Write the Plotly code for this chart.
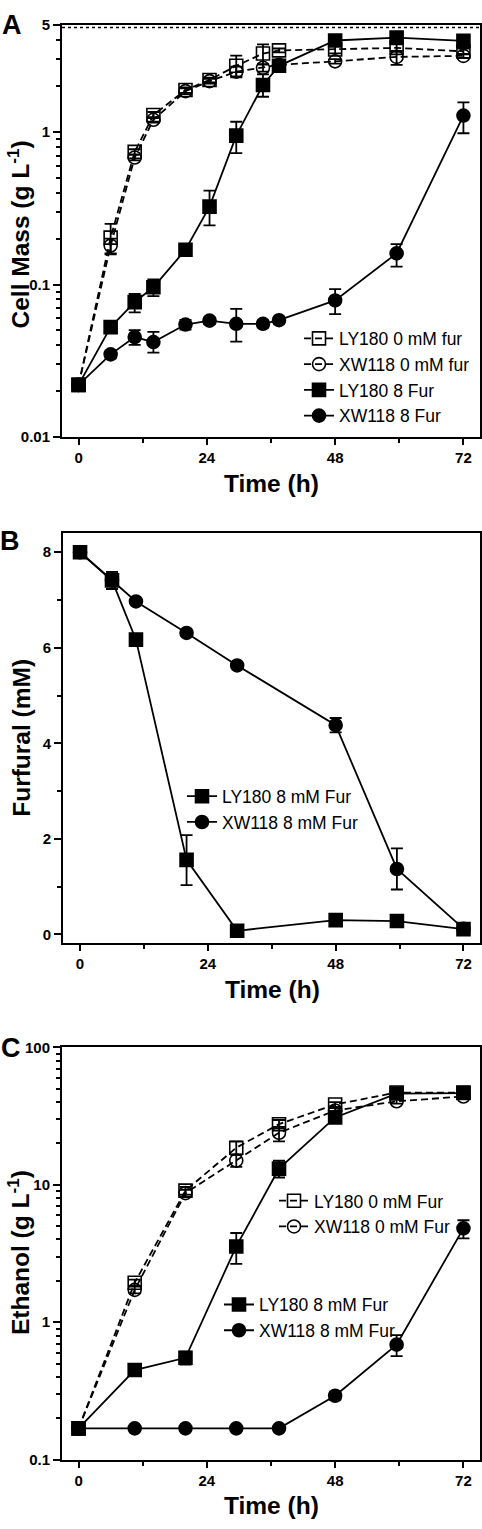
import plotly.graph_objects as go
import numpy as np

W, H = 482, 1529

# ---------------- Data ----------------
# Panel A: cell mass (g/L)
t_A = [0, 6, 10.5, 14, 20, 24.5, 29.5, 34.5, 37.5, 48, 59.5, 72]
A_ly0 = [0.022, 0.203, 0.74, 1.29, 1.88, 2.19, 2.71, 3.26, 3.42, 3.47, 3.55, 3.37]
A_ly0_ep = [0, 0.047, 0.03, 0.06, 0.08, 0.08, 0.45, 0.48, 0.1, 0.2, 0.2, 0.15]
A_ly0_em = [0, 0.045, 0.03, 0.06, 0.08, 0.08, 0.40, 0.50, 0.1, 0.2, 0.2, 0.15]
A_xw0 = [0.022, 0.18, 0.68, 1.2, 1.85, 2.15, 2.48, 2.63, 2.75, 2.9, 3.1, 3.15]
A_xw0_ep = [0, 0.02, 0.03, 0.05, 0.08, 0.08, 0.2, 0.15, 0.1, 0.1, 0.3, 0.1]
A_xw0_em = [0, 0.02, 0.03, 0.05, 0.08, 0.08, 0.2, 0.15, 0.1, 0.1, 0.35, 0.1]
A_ly8 = [0.022, 0.0526, 0.0767, 0.096, 0.169, 0.324, 0.946, 2.03, 2.71, 3.97, 4.15, 3.95]
A_ly8_ep = [0, 0.003, 0.010, 0.012, 0.012, 0.088, 0.22, 0.35, 0.1, 0.2, 0.2, 0.2]
A_ly8_em = [0, 0.003, 0.011, 0.012, 0.012, 0.080, 0.22, 0.33, 0.1, 0.2, 0.2, 0.2]
A_xw8 = [0.022, 0.0349, 0.0453, 0.042, 0.0547, 0.058, 0.0553, 0.0553, 0.0584, 0.0787, 0.16, 1.28]
A_xw8_ep = [0, 0.002, 0.005, 0.007, 0.004, 0.003, 0.014, 0.003, 0.003, 0.0145, 0.024, 0.28]
A_xw8_em = [0, 0.002, 0.005, 0.0062, 0.004, 0.003, 0.013, 0.003, 0.003, 0.0147, 0.029, 0.30]

# Panel B: furfural (mM)
t_B = [0, 6, 10.5, 20, 29.5, 48, 59.5, 72]
B_ly8 = [8.0, 7.41, 6.17, 1.56, 0.076, 0.30, 0.28, 0.11]
B_ly8_ep = [0, 0.18, 0.05, 0.52, 0.02, 0.05, 0.05, 0.05]
B_ly8_em = [0, 0.18, 0.05, 0.53, 0.02, 0.05, 0.05, 0.05]
B_xw8 = [8.0, 7.41, 6.97, 6.31, 5.63, 4.38, 1.37, 0.12]
B_xw8_ep = [0, 0.18, 0.05, 0.05, 0.05, 0.15, 0.43, 0.05]
B_xw8_em = [0, 0.18, 0.05, 0.05, 0.05, 0.15, 0.43, 0.05]

# Panel C: ethanol (g/L)
t_C = [0, 10.5, 20, 29.5, 37.5, 48, 59.5, 72]
C_ly0 = [0.169, 1.94, 9.07, 18.6, 27.6, 38.4, 46.9, 46.9]
C_ly0_ep = [0, 0.1, 0.6, 2.0, 2.0, 1.5, 1.5, 1.5]
C_ly0_em = [0, 0.1, 0.6, 2.0, 2.0, 1.5, 1.5, 1.5]
C_xw0 = [0.169, 1.72, 8.7, 15.0, 23.9, 34.7, 40.5, 43.9]
C_xw0_ep = [0, 0.1, 0.5, 1.5, 2.5, 1.5, 1.5, 1.5]
C_xw0_em = [0, 0.1, 0.5, 1.5, 3.2, 1.5, 1.5, 1.5]
C_ly8 = [0.169, 0.449, 0.551, 3.56, 13.1, 30.9, 46.1, 46.5]
C_ly8_ep = [0, 0.04, 0.06, 0.9, 1.9, 1.5, 1.5, 1.5]
C_ly8_em = [0, 0.04, 0.06, 0.9, 1.8, 1.5, 1.5, 1.5]
C_xw8 = [0.169, 0.169, 0.169, 0.169, 0.169, 0.292, 0.687, 4.82]
C_xw8_ep = [0, 0, 0, 0, 0, 0.02, 0.12, 0.70]
C_xw8_em = [0, 0, 0, 0, 0, 0.02, 0.12, 0.74]

x_ticks = [0, 24, 48, 72]
x_minor = [12, 36, 60]
A_yticks = [0.01, 0.1, 1, 5]
A_ylabels = ["0.01", "0.1", "1", "5"]
B_yticks = [0, 2, 4, 6, 8]
B_yminor = [1, 3, 5, 7]
C_yticks = [0.1, 1, 10, 100]
C_ylabels = ["0.1", "1", "10", "100"]

FONT = "Liberation Sans"

def px_x(p):
    return p / W

def px_y(p):
    return 1 - p / H

fig = go.Figure()

def add_series(x, y, ep, em, name, symbol, dash, xa, ya, legend):
    fig.add_trace(go.Scatter(
        x=x, y=y, name=name, mode="lines+markers",
        xaxis=xa, yaxis=ya, legend=legend,
        line=dict(color="black", width=1.8, dash=dash),
        marker=dict(symbol=symbol, size=13, color="black",
                    line=dict(color="black", width=1.6)),
        error_y=dict(type="data", symmetric=False, array=ep, arrayminus=em,
                     color="black", thickness=1.8, width=6),
    ))

DASH = "7px,4px"
# Panel A
add_series(t_A, A_ly0, A_ly0_ep, A_ly0_em, "LY180 0 mM fur", "square-open", DASH, "x", "y", "legend")
add_series(t_A, A_xw0, A_xw0_ep, A_xw0_em, "XW118 0 mM fur", "circle-open", DASH, "x", "y", "legend")
add_series(t_A, A_ly8, A_ly8_ep, A_ly8_em, "LY180 8 Fur", "square", "solid", "x", "y", "legend")
add_series(t_A, A_xw8, A_xw8_ep, A_xw8_em, "XW118 8 Fur", "circle", "solid", "x", "y", "legend")
# Panel B
add_series(t_B, B_ly8, B_ly8_ep, B_ly8_em, "LY180 8 mM Fur", "square", "solid", "x2", "y2", "legend2")
add_series(t_B, B_xw8, B_xw8_ep, B_xw8_em, "XW118 8 mM Fur", "circle", "solid", "x2", "y2", "legend2")
# Panel C
add_series(t_C, C_ly0, C_ly0_ep, C_ly0_em, "LY180 0 mM Fur", "square-open", DASH, "x3", "y3", "legend3")
add_series(t_C, C_xw0, C_xw0_ep, C_xw0_em, "XW118 0 mM Fur", "circle-open", DASH, "x3", "y3", "legend3")
add_series(t_C, C_ly8, C_ly8_ep, C_ly8_em, "LY180 8 mM Fur", "square", "solid", "x3", "y3", "legend4")
add_series(t_C, C_xw8, C_xw8_ep, C_xw8_em, "XW118 8 mM Fur", "circle", "solid", "x3", "y3", "legend4")

tickfont = dict(family=FONT, size=15, color="black", weight="bold")

def xaxis_cfg(l, r, anchor, rng):
    return dict(domain=[px_x(l), px_x(r)], anchor=anchor, range=rng,
                tickmode="array", tickvals=x_ticks, ticktext=[str(v) for v in x_ticks],
                ticks="outside", ticklen=6, tickwidth=2, tickcolor="black",
                minor=dict(tickmode="array", tickvals=x_minor, ticks="outside",
                           ticklen=4, tickwidth=2, tickcolor="black"),
                showline=True, linewidth=2, linecolor="black", mirror=True,
                showgrid=False, zeroline=False, tickfont=tickfont)

def log_minor(lo, hi):
    vals = []
    for d in range(lo, hi):
        for k in range(2, 10):
            vals.append(k * 10.0 ** d)
    return vals

A_minor = [v for v in log_minor(-2, 1) if v < 5]
C_minor = log_minor(-1, 2)

def yaxis_cfg(top, bot, anchor, **kw):
    d = dict(domain=[px_y(bot), px_y(top)], anchor=anchor,
             ticks="outside", ticklen=7, tickwidth=2, tickcolor="black",
             showline=True, linewidth=2, linecolor="black", mirror=True,
             showgrid=False, zeroline=False, tickfont=tickfont)
    d.update(kw)
    return d

fig.update_layout(
    width=W, height=H,
    margin=dict(l=0, r=0, t=0, b=0),
    paper_bgcolor="white", plot_bgcolor="white",
    font=dict(family=FONT, color="black"),
    xaxis=xaxis_cfg(62, 480, "y", [-3.1, 75.1]),
    yaxis=yaxis_cfg(16.4, 433, "x", type="log", range=[-2, np.log10(5)],
                    tickmode="array", tickvals=A_yticks, ticktext=A_ylabels,
                    minor=dict(tickmode="array", tickvals=A_minor, ticks="outside",
                               ticklen=4, tickwidth=2, tickcolor="black")),
    xaxis2=xaxis_cfg(63, 480, "y2", [-3.2, 75.1]),
    yaxis2=yaxis_cfg(530, 945, "x2", range=[-0.19, 8.4],
                     tickmode="array", tickvals=B_yticks, ticktext=[str(v) for v in B_yticks],
                     minor=dict(tickmode="array", tickvals=B_yminor, ticks="outside",
                                ticklen=4, tickwidth=2, tickcolor="black")),
    xaxis3=xaxis_cfg(62, 480, "y3", [-3.1, 75.1]),
    yaxis3=yaxis_cfg(1050, 1467, "x3", type="log", range=[-1, 2],
                     tickmode="array", tickvals=C_yticks, ticktext=C_ylabels,
                     minor=dict(tickmode="array", tickvals=C_minor, ticks="outside",
                                ticklen=4, tickwidth=2, tickcolor="black")),
)

legfont = dict(family=FONT, size=17.5, color="black")
def leg(x, y):
    return dict(x=px_x(x), y=px_y(y), xanchor="left", yanchor="top",
                bgcolor="rgba(0,0,0,0)", font=legfont, tracegroupgap=0,
                itemwidth=30)

fig.update_layout(
    legend=leg(299, 315),
    legend2=leg(182, 778),
    legend3=leg(274, 1187),
    legend4=leg(219, 1292),
)

# dotted line under top frame of panel A
fig.add_shape(type="line", xref="x domain", yref="y domain",
              x0=0, x1=1, y0=1 - 2.2 / 416.6, y1=1 - 2.2 / 416.6,
              line=dict(color="black", width=1.5, dash="dot"))

ann = []
def title(text, x, y, angle=0, size=24.5):
    ann.append(dict(text=text, x=px_x(x), y=px_y(y), xref="paper", yref="paper",
                    showarrow=False, textangle=angle, xanchor="center", yanchor="middle",
                    font=dict(family=FONT, size=size, color="black", weight="bold")))

title("Cell Mass (g L<sup>-1</sup>)", 18, 228, -90)
title("Furfural (mM)", 22, 737, -90)
title("Ethanol (g L<sup>-1</sup>)", 18, 1258, -90)
title("Time (h)", 271, 480)
title("Time (h)", 272, 992)
title("Time (h)", 271, 1513)
title("A", 12, 16, 0, 27)
title("B", 10, 538, 0, 27)
title("C", 11, 1051, 0, 27)
fig.update_layout(annotations=ann)

fig.write_html("out.html", config={"displayModeBar": False},
               post_script="document.body.style.margin='0px';document.body.style.padding='0px';document.body.style.overflow='hidden';")
